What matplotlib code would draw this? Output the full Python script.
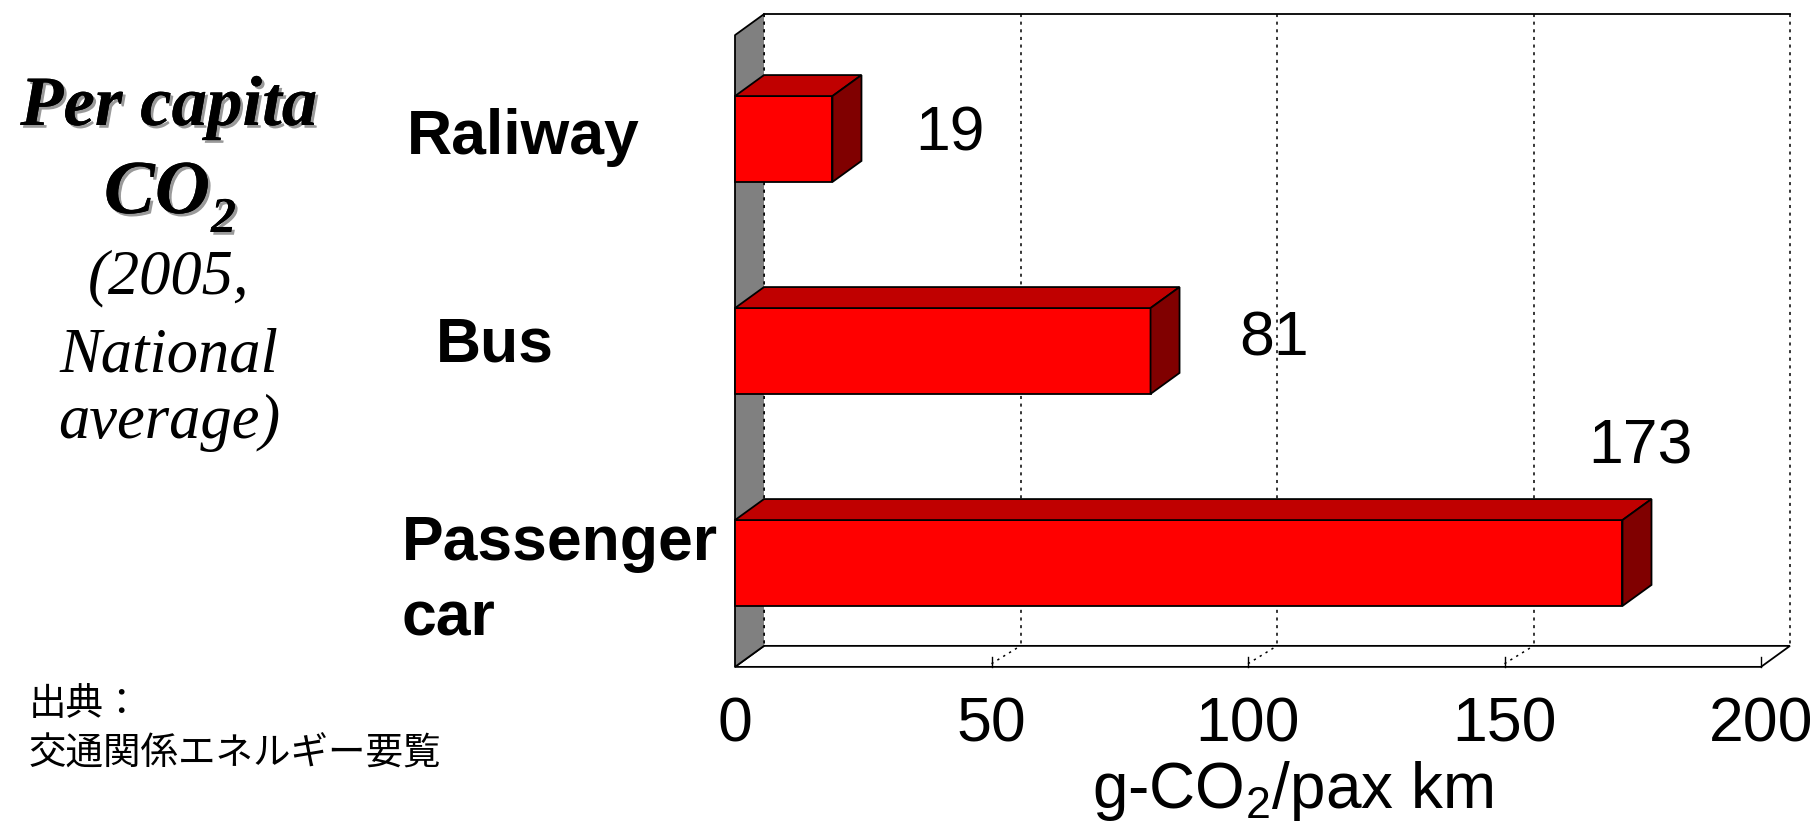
import matplotlib
matplotlib.use('Agg')
import matplotlib.pyplot as plt
from matplotlib.patches import Polygon
import matplotlib.patheffects as pe
from matplotlib.transforms import blended_transform_factory

# ---------------- data ----------------
categories = ['Raliway', 'Bus', 'Passenger\ncar']
values = [19, 81, 173]
value_labels = ['19', '81', '173']
xticks = [0, 50, 100, 150, 200]
xtick_labels = ['0', '50', '100', '150', '200']
xlabel = 'g-CO$_2$/pax km'
title_bold = ['Per capita', 'CO', '2']
title_italic = ['(2005,', 'National', 'average)']
source_lines = ['出典：', '交通関係エネルギー要覧']

# ---------------- style ----------------
plt.rcParams['mathtext.fontset'] = 'custom'
plt.rcParams['mathtext.rm'] = 'Liberation Sans'
plt.rcParams['mathtext.it'] = 'Liberation Sans:italic'
plt.rcParams['mathtext.bf'] = 'Liberation Sans:bold'

W, H = 1818, 823
fig = plt.figure(figsize=(W / 100, H / 100), dpi=100)
ax = fig.add_axes([0, 0, 1, 1])
ax.axis('off')

X0_PX, XMAX_PX = 735, 1761
XMAX = xticks[-1]
upp = XMAX / (XMAX_PX - X0_PX)
ax.set_xlim(-X0_PX * upp, XMAX + (W - XMAX_PX) * upp)
ROW_PX, Y0_PX = 212, 139
ax.set_ylim(-Y0_PX / ROW_PX + H / ROW_PX, -Y0_PX / ROW_PX)

DX = 29 * upp           # depth in x (data units)
DY = -21 / ROW_PX       # depth in y (data units)
n = len(categories)
YT, YB = -0.49, n - 1 + 0.49
BAR_H = 0.405
lw = 1.3

RED, TOP, SIDE, GREY = '#FF0000', '#C00000', '#800000', '#808080'

# back wall (plane) lines
ax.plot([DX, XMAX + DX], [YT + DY, YT + DY], color='black', lw=lw, zorder=1)
for t in xticks:
    ax.plot([t + DX, t + DX], [YT + DY, YB + DY], color='black', lw=1.1,
            ls=(0, (2, 3)), zorder=1)
# floor
floor = Polygon([(0, YB), (XMAX, YB), (XMAX + DX, YB + DY), (DX, YB + DY)],
                closed=True, facecolor='white', edgecolor='black', lw=lw, zorder=1.5)
ax.add_patch(floor)
for t in xticks[1:-1]:
    ax.plot([t, t + DX], [YB - 0.015, YB + DY], color='black', lw=1.1,
            ls=(0, (1.5, 3)), zorder=2)
for t in xticks[1:]:
    ax.plot([t, t], [YB, YB - 0.045], color='black', lw=1.0, zorder=2)
# left grey wall
wall = Polygon([(0, YT), (DX, YT + DY), (DX, YB + DY), (0, YB)], closed=True,
               facecolor=GREY, edgecolor='none', zorder=2)
ax.add_patch(wall)
ax.plot([DX, 0, 0, DX], [YT + DY, YT, YB, YB + DY], color='black', lw=lw, zorder=2.5)
ax.plot([DX, DX], [YT + DY, YB + DY], color='black', lw=1.1, ls=(0, (2, 3)), zorder=2.5)

# bars
ax.barh(range(n), values, height=BAR_H, color=RED, edgecolor='black', lw=lw, zorder=3)
for i, v in enumerate(values):
    y1, y2 = i - BAR_H / 2, i + BAR_H / 2
    ax.add_patch(Polygon([(0, y1), (DX, y1 + DY), (v + DX, y1 + DY), (v, y1)],
                         closed=True, facecolor=TOP, edgecolor='black', lw=lw, zorder=3))
    ax.add_patch(Polygon([(v, y1), (v + DX, y1 + DY), (v + DX, y2 + DY), (v, y2)],
                         closed=True, facecolor=SIDE, edgecolor='black', lw=lw, zorder=3))

# value labels
val_off = [(23, 0.055), (24, 0.02), (3.5, -0.47)]
for i, (v, lab) in enumerate(zip(values, value_labels)):
    dx, dy = val_off[i]
    ax.text(v + dx, i + dy, lab, ha='center', va='baseline', fontsize=45,
            family='Liberation Sans', color='black', zorder=4)

# x tick labels
for t, lab in zip(xticks, xtick_labels):
    ax.text(t, (742 - Y0_PX) / ROW_PX, lab, ha='center', va='baseline',
            fontsize=45, family='Liberation Sans')
fig.text(1293 / W, 1 - 808 / H, xlabel, ha='center', va='baseline', fontsize=46,
         family='Liberation Sans')

# category labels (baseline of the last line)
tr = blended_transform_factory(fig.transFigure, ax.transData)
cat_pos = [(407, 0.071), (436, 0.05), (402, 0.34)]
for i, lab in enumerate(categories):
    xp, dy = cat_pos[i]
    ax.text(xp / W, i + dy, lab, transform=tr, ha='left', va='baseline', fontsize=45,
            fontweight='bold', family='Liberation Sans', linespacing=1.34)

# left title
shadow = [pe.withSimplePatchShadow(offset=(2, -2), shadow_rgbFace='#9a9a9a', alpha=1.0),
          pe.Normal()]
fig.text(169 / W, 1 - 125 / H, title_bold[0], ha='center', va='baseline', fontsize=51,
         family='Liberation Serif', fontweight='bold', style='italic', path_effects=shadow)
fig.text(210 / W, 1 - 213 / H, title_bold[1], ha='right', va='baseline', fontsize=55,
         family='Liberation Serif', fontweight='bold', style='italic', path_effects=shadow)
fig.text(211 / W, 1 - 232 / H, title_bold[2], ha='left', va='baseline', fontsize=36,
         family='Liberation Serif', fontweight='bold', style='italic', path_effects=shadow)
for txt, yb in zip(title_italic, [293, 372, 438]):
    fig.text(169 / W, 1 - yb / H, txt, ha='center', va='baseline', fontsize=45,
             family='Liberation Serif', style='italic')

# source
for txt, yc in zip(source_lines, [704, 754]):
    fig.text(29 / W, 1 - yc / H, txt, ha='left', va='center', fontsize=27,
             family=['Noto Sans CJK JP', 'DejaVu Sans'])

fig.savefig('out.png', dpi=100, facecolor='white')
